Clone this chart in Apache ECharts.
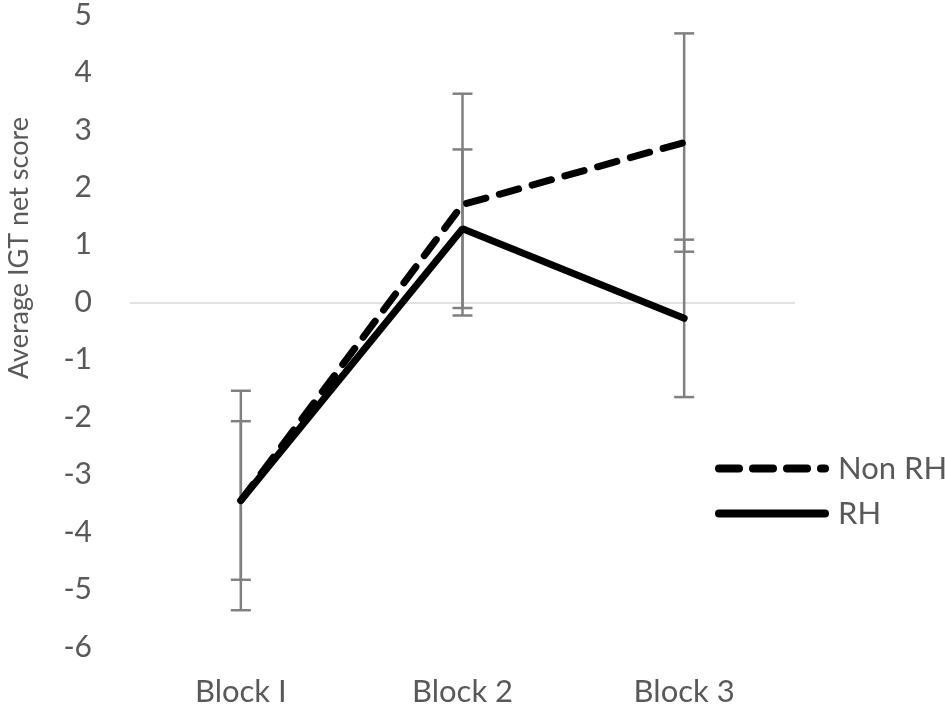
<!DOCTYPE html>
<html>
<head>
<meta charset="utf-8">
<script src="https://cdn.jsdelivr.net/npm/echarts@6/dist/echarts.min.js"></script>
<style>
  html, body { margin: 0; padding: 0; background: #fff; }
  #main { width: 945px; height: 710px; }
</style>
</head>
<body>
<div id="main"></div>
<script>
// data
var blocks = ['Block I', 'Block 2', 'Block 3'];
var nonRH = [-3.45, 1.70, 2.78];
var nonRHErr = [1.91, 1.93, 1.90];
var rh = [-3.45, 1.28, -0.28];
var rhErr = [1.38, 1.38, 1.37];
var yTicks = [-6, -5, -4, -3, -2, -1, 0, 1, 2, 3, 4, 5];

var FONT = 'Lato';
var GREY = '#595959';

function errData(vals, errs) {
	var out = [];
	for (var i = 0; i < vals.length; i++) {
		out.push([i, vals[i] - errs[i], vals[i] + errs[i]]);
	}
	return out;
}

function errBars(api) {
	var x = api.value(0);
	var lo = api.coord([x, api.value(1)]);
	var hi = api.coord([x, api.value(2)]);
	var w = 10;
	var st = { stroke: '#808080', lineWidth: 2.5 };
	return {
		type: 'group',
		children: [
			{ type: 'line', shape: { x1: lo[0], y1: lo[1], x2: hi[0], y2: hi[1] }, style: st },
			{ type: 'line', shape: { x1: lo[0] - w, y1: lo[1], x2: lo[0] + w, y2: lo[1] }, style: st },
			{ type: 'line', shape: { x1: hi[0] - w, y1: hi[1], x2: hi[0] + w, y2: hi[1] }, style: st }
		]
	};
}

var myChart = echarts.init(document.getElementById('main'));
var option = {
	animation: false,
	grid: { left: 130, right: 150, top: 15, bottom: 63 },
	graphic: [{
		type: 'text',
		left: 6,
		top: 117,
		rotation: Math.PI / 2,
		style: {
			text: 'Average IGT net score',
			font: '27px ' + FONT,
			fill: GREY
		}
	}],
	legend: {
		orient: 'vertical',
		left: 710,
		top: 448,
		itemWidth: 106,
		itemHeight: 14,
		itemGap: 14,
		itemStyle: { opacity: 0 },
		lineStyle: { width: 8, cap: 'round' },
		textStyle: { fontFamily: FONT, fontSize: 31, color: GREY, padding: [0, 0, 0, 8] },
		data: ['Non RH', 'RH']
	},
	xAxis: {
		type: 'category',
		data: blocks,
		axisLine: { show: false, onZero: false },
		axisTick: { show: false },
		axisLabel: { fontFamily: FONT, fontSize: 31, color: GREY, margin: 29 }
	},
	yAxis: {
		type: 'value',
		min: -6,
		max: 5,
		interval: 1,
		axisLine: { show: false },
		axisTick: { show: false },
		splitLine: { show: false },
		axisLabel: {
			fontFamily: FONT, fontSize: 30, color: GREY, margin: 38,
			formatter: function (v) { return yTicks.indexOf(v) >= 0 ? String(v) : ''; }
		}
	},
	series: [
		{
			type: 'custom',
			renderItem: function (p, api) { return errBars(api); },
			data: errData(nonRH, nonRHErr),
			z: 1,
			silent: true
		},
		{
			type: 'custom',
			renderItem: function (p, api) { return errBars(api); },
			data: errData(rh, rhErr),
			z: 1,
			silent: true
		},
		{
			name: 'Non RH',
			type: 'line',
			data: nonRH,
			symbol: 'none',
			z: 3,
			lineStyle: { color: '#000', width: 7, type: [20, 14], cap: 'round' },
			itemStyle: { color: '#000' },
			markLine: {
				silent: true,
				symbol: 'none',
				label: { show: false },
				lineStyle: { color: '#d9d9d9', width: 1.5, type: 'solid' },
				data: [{ yAxis: 0 }],
				z: 0
			}
		},
		{
			name: 'RH',
			type: 'line',
			data: rh,
			symbol: 'none',
			z: 3,
			lineStyle: { color: '#000', width: 7, cap: 'round' },
			itemStyle: { color: '#000' }
		}
	]
};
myChart.setOption(option);
</script>
</body>
</html>
